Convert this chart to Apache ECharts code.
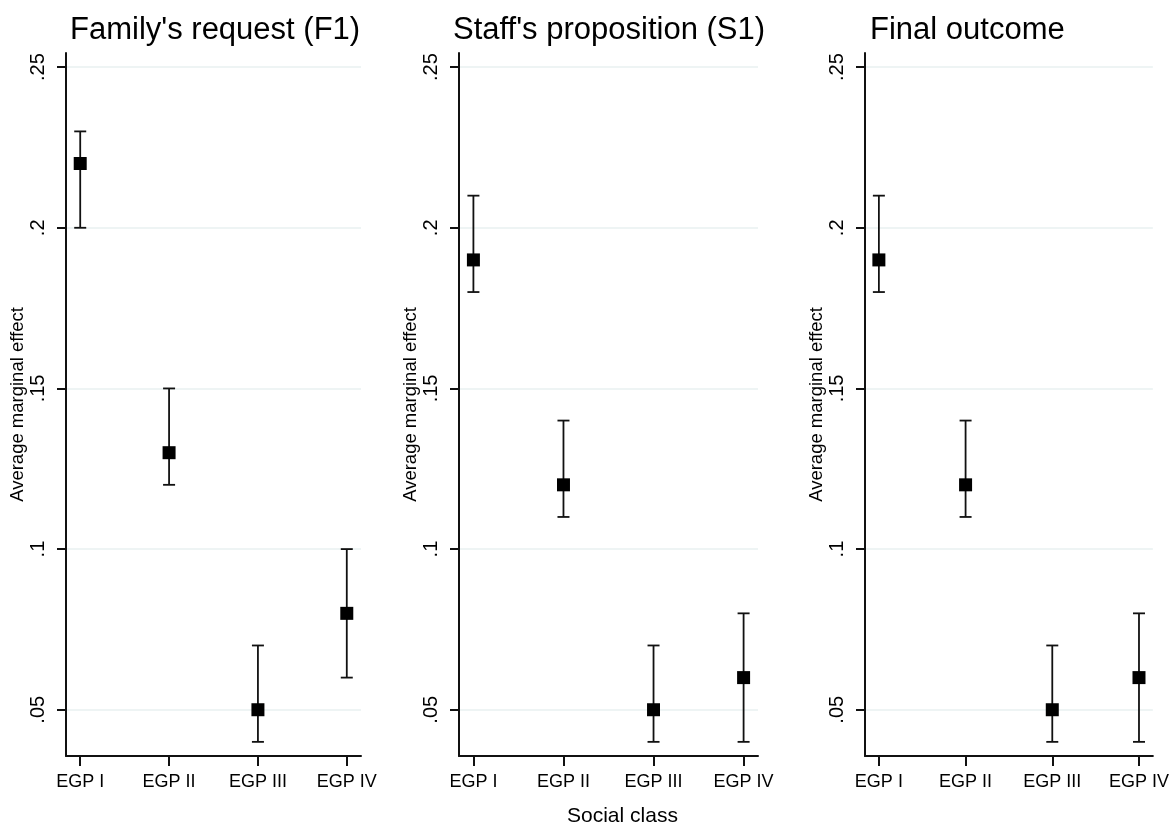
<!DOCTYPE html>
<html>
<head>
<meta charset="utf-8">
<script src="https://cdn.jsdelivr.net/npm/echarts@6/dist/echarts.min.js"></script>
<style>
html,body{margin:0;padding:0;background:#fff;}
#chart{width:1172px;height:826px;}
</style>
</head>
<body>
<div id="chart"></div>
<script>
const categories = ['EGP I', 'EGP II', 'EGP III', 'EGP IV'];
const panelTitles = ["Family's request (F1)", "Staff's proposition (S1)", 'Final outcome'];
const familyEst = [0.22, 0.13, 0.05, 0.08];
const familyLo  = [0.20, 0.12, 0.04, 0.06];
const familyHi  = [0.23, 0.15, 0.07, 0.10];
const staffEst  = [0.19, 0.12, 0.05, 0.06];
const staffLo   = [0.18, 0.11, 0.04, 0.04];
const staffHi   = [0.21, 0.14, 0.07, 0.08];
const finalEst  = [0.19, 0.12, 0.05, 0.06];
const finalLo   = [0.18, 0.11, 0.04, 0.04];
const finalHi   = [0.21, 0.14, 0.07, 0.08];
const yTicks = [0.05, 0.10, 0.15, 0.20, 0.25];
const yTickLabels = ['.05', '.1', '.15', '.2', '.25'];
const yName = 'Average marginal effect';
const xName = 'Social class';

const FONT = "'Liberation Sans', Arial, sans-serif";
const panels = [
  {est: familyEst, lo: familyLo, hi: familyHi},
  {est: staffEst, lo: staffLo, hi: staffHi},
  {est: finalEst, lo: finalLo, hi: finalHi}
];
const grids = [
  {left: 66, top: 53, width: 295, height: 703},
  {left: 459, top: 53, width: 299, height: 703},
  {left: 865, top: 53, width: 291, height: 703}
];
const titleLefts = [70, 453, 870];
const xIdx = categories.map((c, i) => i + 1);

const option = {
  backgroundColor: '#fff',
  animation: false,
  title: panelTitles.map((t, i) => ({
    text: t, left: titleLefts[i], top: 15, padding: 0,
    textStyle: {fontFamily: FONT, fontSize: 31, fontWeight: 'normal', color: '#000', lineHeight: 31}
  })).concat([{
    text: xName, left: 567, top: 806, padding: 0,
    textStyle: {fontFamily: FONT, fontSize: 21, fontWeight: 'normal', color: '#000', lineHeight: 21}
  }]),
  grid: grids.map(g => Object.assign({containLabel: false}, g)),
  xAxis: grids.map((g, i) => ({
    type: 'value', gridIndex: i, min: 0.84, max: 4.16,
    axisLine: {show: true, onZero: false, lineStyle: {color: '#111', width: 2}},
    axisTick: {show: true, length: 10, customValues: xIdx, lineStyle: {color: '#111', width: 2}},
    axisLabel: {show: true, customValues: xIdx, margin: 17, fontFamily: FONT, fontSize: 18, color: '#000',
      formatter: v => categories[Math.round(v) - 1] || ''},
    splitLine: {show: false}
  })),
  yAxis: grids.map((g, i) => ({
    type: 'value', gridIndex: i, min: 0.0356, max: 0.2544,
    name: yName, nameLocation: 'middle', nameGap: 34, nameRotate: 90,
    nameTextStyle: {fontFamily: FONT, fontSize: 18.5, color: '#000'},
    axisLine: {show: true, lineStyle: {color: '#111', width: 2}},
    axisTick: {show: true, length: 9, customValues: yTicks, lineStyle: {color: '#111', width: 2}},
    axisLabel: {show: true, customValues: yTicks, rotate: 90, margin: 18, fontFamily: FONT, fontSize: 20, color: '#000',
      formatter: v => { const k = yTicks.findIndex(t => Math.abs(t - v) < 1e-6); return k >= 0 ? yTickLabels[k] : ''; }},
    splitLine: {show: true, lineStyle: {color: '#e8f1f1', width: 1.5}}
  })),
  series: []
};

panels.forEach((p, i) => {
  option.series.push({
    type: 'custom', xAxisIndex: i, yAxisIndex: i, z: 2,
    data: categories.map((c, k) => [k + 1, p.lo[k], p.hi[k]]),
    renderItem: (params, api) => {
      const x = api.value(0);
      const top = api.coord([x, api.value(2)]);
      const bot = api.coord([x, api.value(1)]);
      const hw = 6;
      const style = {stroke: '#111', lineWidth: 1.8};
      return {type: 'group', children: [
        {type: 'line', shape: {x1: top[0], y1: top[1], x2: bot[0], y2: bot[1]}, style},
        {type: 'line', shape: {x1: top[0] - hw, y1: top[1], x2: top[0] + hw, y2: top[1]}, style},
        {type: 'line', shape: {x1: bot[0] - hw, y1: bot[1], x2: bot[0] + hw, y2: bot[1]}, style}
      ]};
    }
  });
  option.series.push({
    type: 'scatter', xAxisIndex: i, yAxisIndex: i, z: 3,
    symbol: 'rect', symbolSize: 13,
    itemStyle: {color: '#000', opacity: 1},
    data: categories.map((c, k) => [k + 1, p.est[k]])
  });
});

const chart = echarts.init(document.getElementById('chart'), null, {renderer: 'canvas'});
chart.setOption(option);
</script>
</body>
</html>
